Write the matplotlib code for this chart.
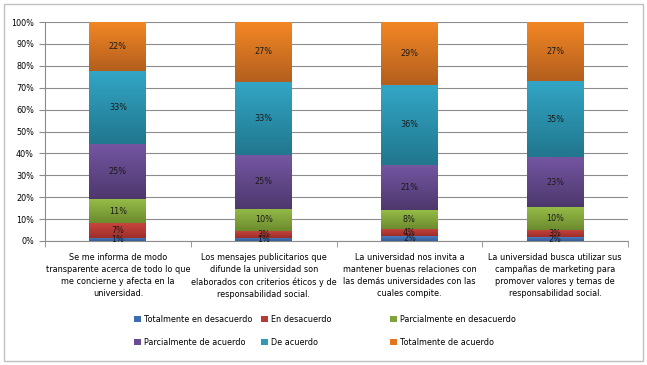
import matplotlib
matplotlib.use('Agg')

import matplotlib.pyplot as plt
import numpy as np
from matplotlib.colors import LinearSegmentedColormap
from matplotlib.patches import Rectangle, Patch

plt.rcParams['font.family'] = ['DejaVu Sans']
plt.rcParams['font.stretch'] = 'condensed'

categories = [
    "Se me informa de modo\ntransparente acerca de todo lo que\nme concierne y afecta en la\nuniversidad.",
    "Los mensajes publicitarios que\ndifunde la universidad son\nelaborados con criterios éticos y de\nresponsabilidad social.",
    "La universidad nos invita a\nmantener buenas relaciones con\nlas demás universidades con las\ncuales compite.",
    "La universidad busca utilizar sus\ncampañas de marketing para\npromover valores y temas de\nresponsabilidad social.",
]

series_names = ["Totalmente en desacuerdo", "En desacuerdo", "Parcialmente en desacuerdo",
                "Parcialmente de acuerdo", "De acuerdo", "Totalmente de acuerdo"]

# shares (%) per category
tot_desacuerdo = [1.4, 1.4, 2.1, 1.7]
en_desacuerdo = [6.7, 3.2, 3.6, 3.3]
parc_desacuerdo = [10.9, 10.2, 8.3, 10.3]
parc_acuerdo = [25.2, 24.6, 20.8, 22.9]
de_acuerdo = [33.4, 33.4, 36.4, 34.8]
tot_acuerdo = [22.4, 27.2, 28.8, 27.0]

# printed data labels
labels = [
    ["1%", "1%", "2%", "2%"],
    ["7%", "3%", "4%", "3%"],
    ["11%", "10%", "8%", "10%"],
    ["25%", "25%", "21%", "23%"],
    ["33%", "33%", "36%", "35%"],
    ["22%", "27%", "29%", "27%"],
]

series = [tot_desacuerdo, en_desacuerdo, parc_desacuerdo, parc_acuerdo, de_acuerdo, tot_acuerdo]

# (top colour, bottom colour) for the Excel-like gradient
grads = [
    ("#4A7EC0", "#345C96"),
    ("#C8443E", "#9E2E2A"),
    ("#95BB47", "#6C8B2E"),
    ("#7456A2", "#4D386D"),
    ("#33A6C6", "#21778E"),
    ("#F38725", "#B35F1E"),
]
legend_colors = ["#3D6CB0", "#B83A35", "#7FA23B", "#6A4C93", "#2E98B6", "#E5761F"]

fig = plt.figure(figsize=(6.47, 3.65), dpi=100)
fig.patches.append(Rectangle((4 / 647, 4 / 365), 639 / 647, 357 / 365, transform=fig.transFigure,
                             fill=False, edgecolor="#BFBFBF", linewidth=1.0))

ax = fig.add_axes([45 / 647, 1 - 241 / 365, 583 / 647, 219 / 365])

x = np.arange(len(categories))
width = 0.39
bottom = np.zeros(len(categories))
grad = np.linspace(0, 1, 64).reshape(-1, 1)

for i, vals in enumerate(series):
    vals = np.array(vals)
    bars = ax.bar(x, vals, width, bottom=bottom, color=legend_colors[i], zorder=2, linewidth=0)
    cmap = LinearSegmentedColormap.from_list("g%d" % i, [grads[i][1], grads[i][0]])
    for j, rect in enumerate(bars):
        x0 = rect.get_x()
        y0 = rect.get_y()
        im = ax.imshow(grad, extent=(x0, x0 + width, y0, y0 + rect.get_height()), origin='lower',
                       aspect='auto', cmap=cmap, zorder=2.5)
        im.set_clip_path(rect)
        ax.text(x[j], y0 + rect.get_height() / 2, labels[i][j], ha='center', va='center',
                fontsize=6.5, color="#1A1A1A", zorder=3)
    bottom += vals

ax.set_xlim(-0.5, len(categories) - 0.5)
ax.set_ylim(0, 100)
ax.set_yticks(range(0, 101, 10))
ax.set_yticklabels(["%d%%" % v for v in range(0, 101, 10)], fontsize=6.5)
ax.yaxis.grid(True, color="#8C8C8C", linewidth=0.8, zorder=0)
ax.set_axisbelow(True)

ax.set_xticks(x)
ax.set_xticklabels(categories, fontsize=6.5, linespacing=1.4)
ax.set_xticks(np.arange(-0.5, len(categories)), minor=True)
ax.tick_params(axis='x', which='major', length=0, pad=9)
ax.tick_params(axis='x', which='minor', length=4, color="#8C8C8C")
ax.tick_params(axis='y', length=4, color="#8C8C8C", pad=4)

for s in ['top', 'right']:
    ax.spines[s].set_visible(False)
ax.spines['left'].set_color("#8C8C8C")
ax.spines['bottom'].set_color("#8C8C8C")

# legend: three equally spaced columns, two rows
handles = [Patch(facecolor=c, edgecolor='none') for c in legend_colors]
col_x = [134, 261, 390]
for c in range(3):
    fig.legend([handles[c], handles[c + 3]], [series_names[c], series_names[c + 3]],
               loc='center left', bbox_to_anchor=(col_x[c] / 647, 1 - 331 / 365),
               frameon=False, fontsize=6.5, handlelength=0.75, handleheight=0.75,
               handletextpad=0.35, labelspacing=1.55, borderpad=0, borderaxespad=0)

plt.savefig("out.png", dpi=100)
